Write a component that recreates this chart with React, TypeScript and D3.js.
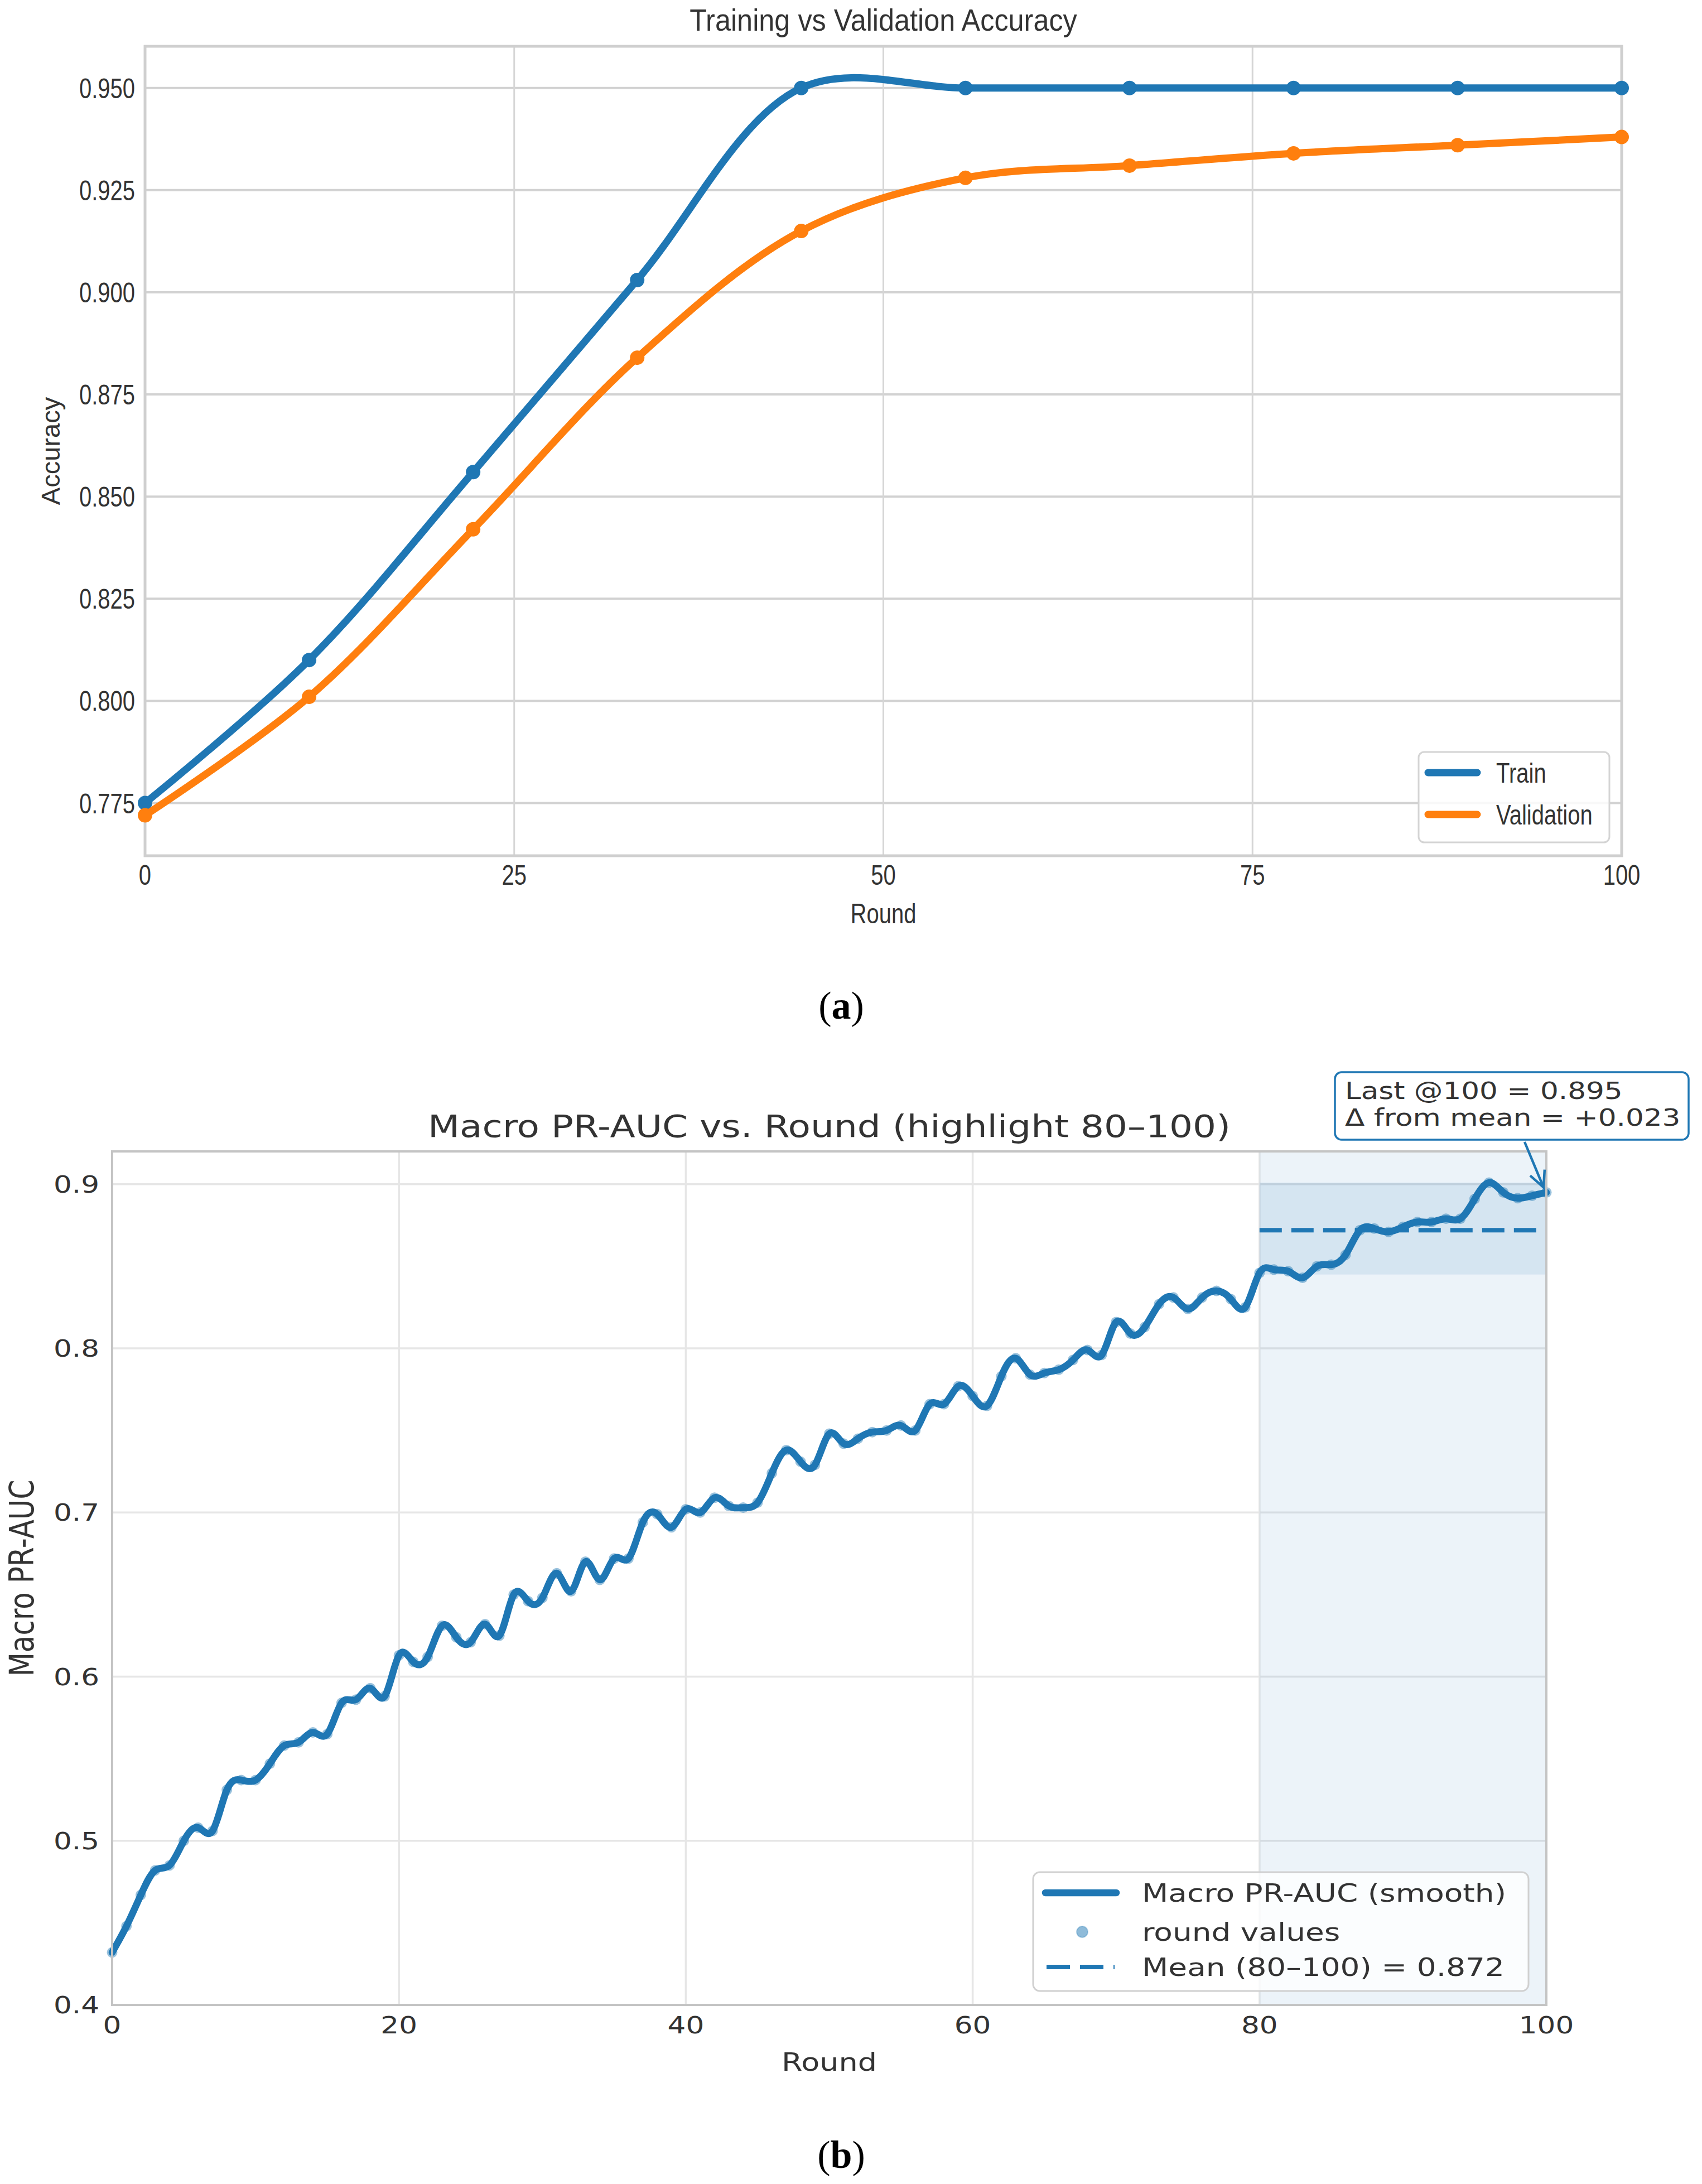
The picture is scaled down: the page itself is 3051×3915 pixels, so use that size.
import React from 'react';
import * as d3 from 'd3';

// (a) training vs validation accuracy
const accRounds = [0, 11.11, 22.22, 33.33, 44.44, 55.56, 66.67, 77.78, 88.89, 100];
const trainAcc = [0.775, 0.810, 0.856, 0.903, 0.950, 0.950, 0.950, 0.950, 0.950, 0.950];
const valAcc = [0.772, 0.801, 0.842, 0.884, 0.915, 0.928, 0.931, 0.934, 0.936, 0.938];
const accYTicks = [0.775, 0.8, 0.825, 0.85, 0.875, 0.9, 0.925, 0.95];
const accXTicks = [0, 25, 50, 75, 100];

// (b) macro PR-AUC per round (0..100)
const prAuc = [
  0.432, 0.448, 0.467, 0.482, 0.485, 0.500, 0.508, 0.506, 0.531, 0.537,
  0.537, 0.547, 0.558, 0.560, 0.566, 0.565, 0.584, 0.586, 0.593, 0.588,
  0.613, 0.609, 0.612, 0.631, 0.624, 0.621, 0.632, 0.625, 0.650, 0.646,
  0.648, 0.663, 0.652, 0.670, 0.659, 0.672, 0.672, 0.694, 0.699, 0.691,
  0.702, 0.700, 0.709, 0.704, 0.703, 0.706, 0.724, 0.738, 0.731, 0.729,
  0.748, 0.742, 0.745, 0.749, 0.750, 0.753, 0.750, 0.766, 0.766, 0.777,
  0.771, 0.765, 0.783, 0.794, 0.784, 0.785, 0.787, 0.793, 0.799, 0.796,
  0.816, 0.809, 0.813, 0.827, 0.831, 0.824, 0.831, 0.835, 0.830, 0.825,
  0.846, 0.848, 0.847, 0.843, 0.850, 0.851, 0.857, 0.872, 0.873, 0.871,
  0.874, 0.877, 0.877, 0.879, 0.879, 0.891, 0.901, 0.895, 0.8915, 0.893,
  0.895,
];
const highlight = [80, 100];
const meanValue = 0.872;
const bandRange = [0.845, 0.901];
const prYTicks = [0.4, 0.5, 0.6, 0.7, 0.8, 0.9];
const prXTicks = [0, 20, 40, 60, 80, 100];
const lastValue = 0.895;
const deltaValue = 0.023;

const BLUE = '#1f77b4';
const ORANGE = '#ff7f0e';
const ARIAL = '"Liberation Sans", Arial, sans-serif';
const DEJAVU = '"DejaVu Sans", Verdana, sans-serif';
const SERIF = '"Liberation Serif", "DejaVu Serif", serif';

type TxtProps = {
  x: number; y: number; sx?: number; rot?: number; size: number;
  family: string; anchor?: string; fill?: string; children: React.ReactNode;
};

const Txt = ({ x, y, sx = 1, rot = 0, size, family, anchor = 'start', fill = '#333', children }: TxtProps) => (
  <text
    transform={`translate(${x},${y}) scale(${sx},1)${rot ? ` rotate(${rot})` : ''}`}
    fontSize={size}
    fontFamily={family}
    textAnchor={anchor}
    fill={fill}
  >
    {children}
  </text>
);

const AccuracyChart = () => {
  const x = d3.scaleLinear().domain([0, 100]).range([260, 2907]);
  const y = d3.scaleLinear().domain([0.7621, 0.9602]).range([1534, 83]);
  const line = d3.line<number>()
    .x((_, i) => x(accRounds[i]))
    .y(d => y(d))
    .curve(d3.curveCatmullRom.alpha(0.5));
  const [x0, x1] = x.range();
  const [y1, y0] = y.range();
  const sx = 0.8;

  return (
    <g>
      {accYTicks.map(t => (
        <line key={`h${t}`} x1={x0} x2={x1} y1={y(t)} y2={y(t)} stroke="#d2d2d2" strokeWidth={4} />
      ))}
      {accXTicks.slice(1, -1).map(t => (
        <line key={`v${t}`} x1={x(t)} x2={x(t)} y1={y0} y2={y1} stroke="#d6d6d6" strokeWidth={3} />
      ))}
      <rect x={x0} y={y0} width={x1 - x0} height={y1 - y0} fill="none" stroke="#cfcfcf" strokeWidth={5} />

      {[{ d: trainAcc, c: BLUE }, { d: valAcc, c: ORANGE }].map(s => (
        <g key={s.c}>
          <path d={line(s.d) || ''} fill="none" stroke={s.c} strokeWidth={13} strokeLinejoin="round" />
          {s.d.map((v, i) => (
            <circle key={i} cx={x(accRounds[i])} cy={y(v)} r={13} fill={s.c} />
          ))}
        </g>
      ))}

      {accYTicks.map(t => (
        <Txt key={`yt${t}`} x={242} y={y(t) + 18} sx={sx} size={50} family={ARIAL} anchor="end">
          {d3.format('.3f')(t)}
        </Txt>
      ))}
      {accXTicks.map(t => (
        <Txt key={`xt${t}`} x={x(t)} y={1586} sx={sx} size={50} family={ARIAL} anchor="middle">
          {t}
        </Txt>
      ))}
      <Txt x={(x0 + x1) / 2} y={55} sx={0.9} size={56} family={ARIAL} anchor="middle">
        Training vs Validation Accuracy
      </Txt>
      <Txt x={(x0 + x1) / 2} y={1655} sx={sx} size={50} family={ARIAL} anchor="middle">Round</Txt>
      <Txt x={107} y={(y0 + y1) / 2} rot={-90} size={47} family={ARIAL} anchor="middle">Accuracy</Txt>

      {/* legend */}
      <rect x={2543} y={1348} width={342} height={162} rx={10} fill="#fff" fillOpacity={0.85} stroke="#d4d4d4" strokeWidth={3} />
      {[{ c: BLUE, t: 'Train', yy: 1385 }, { c: ORANGE, t: 'Validation', yy: 1460 }].map(l => (
        <g key={l.t}>
          <line x1={2560} x2={2648} y1={l.yy} y2={l.yy} stroke={l.c} strokeWidth={13} strokeLinecap="round" />
          <Txt x={2682} y={l.yy + 18} sx={sx} size={50} family={ARIAL}>{l.t}</Txt>
        </g>
      ))}
    </g>
  );
};

const PrAucChart = () => {
  const x = d3.scaleLinear().domain([0, 100]).range([201, 2772]);
  const y = d3.scaleLinear().domain([0.4, 0.92]).range([3594, 2064]);
  const line = d3.line<number>()
    .x((_, i) => x(i))
    .y(d => y(d))
    .curve(d3.curveNatural);
  const [x0, x1] = x.range();
  const [y1, y0] = y.range();
  const sx = 1.2;

  // annotation arrow toward last point
  const tipX = x(100) - 5;
  const tipY = y(lastValue) - 9;
  const startX = 2733;
  const startY = 2047;
  const ang = Math.atan2(tipY - startY, tipX - startX);
  const head = 32;
  const spread = (26 * Math.PI) / 180;
  const hx1 = tipX - head * Math.cos(ang - spread);
  const hy1 = tipY - head * Math.sin(ang - spread);
  const hx2 = tipX - head * Math.cos(ang + spread);
  const hy2 = tipY - head * Math.sin(ang + spread);

  return (
    <g>
      {prYTicks.slice(1).map(t => (
        <line key={`h${t}`} x1={x0} x2={x1} y1={y(t)} y2={y(t)} stroke="#e6e6e6" strokeWidth={3.5} />
      ))}
      {prXTicks.slice(1, -1).map(t => (
        <line key={`v${t}`} x1={x(t)} x2={x(t)} y1={y0} y2={y1} stroke="#e6e6e6" strokeWidth={3.5} />
      ))}

      <rect x={x(highlight[0])} y={y0} width={x(highlight[1]) - x(highlight[0])} height={y1 - y0} fill={BLUE} fillOpacity={0.085} />
      <rect x={x(highlight[0])} y={y(bandRange[1])} width={x(highlight[1]) - x(highlight[0])} height={y(bandRange[0]) - y(bandRange[1])} fill={BLUE} fillOpacity={0.11} />

      {prAuc.map((v, i) => (
        <circle key={i} cx={x(i)} cy={y(v)} r={9.5} fill={BLUE} fillOpacity={0.45} />
      ))}
      <path d={line(prAuc) || ''} fill="none" stroke={BLUE} strokeWidth={12.5} strokeLinejoin="round" strokeLinecap="round" />
      <line x1={x(highlight[0])} x2={x(highlight[1])} y1={y(meanValue)} y2={y(meanValue)} stroke={BLUE} strokeWidth={8} strokeDasharray="40 17" />

      <rect x={x0} y={y0} width={x1 - x0} height={y1 - y0} fill="none" stroke="#c4c4c4" strokeWidth={4} />

      {prYTicks.map(t => (
        <Txt key={`yt${t}`} x={178} y={y(t) + 15} sx={sx} size={43} family={DEJAVU} anchor="end">
          {d3.format('.1f')(t)}
        </Txt>
      ))}
      {prXTicks.map(t => (
        <Txt key={`xt${t}`} x={x(t)} y={3645} sx={sx} size={43} family={DEJAVU} anchor="middle">
          {t}
        </Txt>
      ))}
      <Txt x={(x0 + x1) / 2} y={2038} sx={1.18} size={56} family={DEJAVU} anchor="middle">
        {`Macro PR-AUC vs. Round (highlight ${highlight[0]}\u2013${highlight[1]})`}
      </Txt>
      <Txt x={(x0 + x1) / 2} y={3712} sx={sx} size={45} family={DEJAVU} anchor="middle">Round</Txt>
      <Txt x={60} y={(y0 + y1) / 2} sx={sx} rot={-90} size={50} family={DEJAVU} anchor="middle">Macro PR-AUC</Txt>

      {/* annotation */}
      <line x1={startX} y1={startY} x2={tipX} y2={tipY} stroke={BLUE} strokeWidth={4.5} />
      <polyline points={`${hx1},${hy1} ${tipX},${tipY} ${hx2},${hy2}`} fill="none" stroke={BLUE} strokeWidth={4.5} />
      <rect x={2393} y={1922} width={634} height={121} rx={12} fill="#fff" stroke={BLUE} strokeWidth={3.5} />
      <Txt x={2411} y={1970} sx={sx} size={43} family={DEJAVU}>{`Last @100 = ${lastValue.toFixed(3)}`}</Txt>
      <Txt x={2411} y={2018} sx={sx} size={43} family={DEJAVU}>{`\u0394 from mean = +${deltaValue.toFixed(3)}`}</Txt>

      {/* legend */}
      <rect x={1852} y={3356} width={888} height={213} rx={12} fill="#fff" fillOpacity={0.8} stroke="#d0d0d0" strokeWidth={3} />
      <line x1={1874} x2={2001} y1={3393} y2={3393} stroke={BLUE} strokeWidth={12.5} strokeLinecap="round" />
      <circle cx={1940} cy={3463} r={10} fill={BLUE} fillOpacity={0.5} stroke={BLUE} strokeOpacity={0.3} strokeWidth={2} />
      <line x1={1876} x2={1998} y1={3526} y2={3526} stroke={BLUE} strokeWidth={8} strokeDasharray="42 18" />
      <Txt x={2047} y={3409} sx={1.22} size={45} family={DEJAVU}>Macro PR-AUC (smooth)</Txt>
      <Txt x={2047} y={3479} sx={1.22} size={45} family={DEJAVU}>round values</Txt>
      <Txt x={2047} y={3542} sx={1.22} size={45} family={DEJAVU}>
        {`Mean (${highlight[0]}\u2013${highlight[1]}) = ${meanValue.toFixed(3)}`}
      </Txt>
    </g>
  );
};

const Caption = ({ y, letter }: { y: number; letter: string }) => (
  <text x={1508} y={y} fontSize={70} fontFamily={SERIF} textAnchor="middle" fill="#000">
    (<tspan fontWeight="bold">{letter}</tspan>)
  </text>
);

export default function App() {
  return (
    <div style={{ position: 'absolute', left: 0, top: 0 }}>
      <svg width={3051} height={3915} viewBox="0 0 3051 3915" style={{ display: 'block', background: '#fff' }}>
        <rect width={3051} height={3915} fill="#fff" />
        <AccuracyChart />
        <Caption y={1826} letter="a" />
        <PrAucChart />
        <Caption y={3886} letter="b" />
      </svg>
    </div>
  );
}
